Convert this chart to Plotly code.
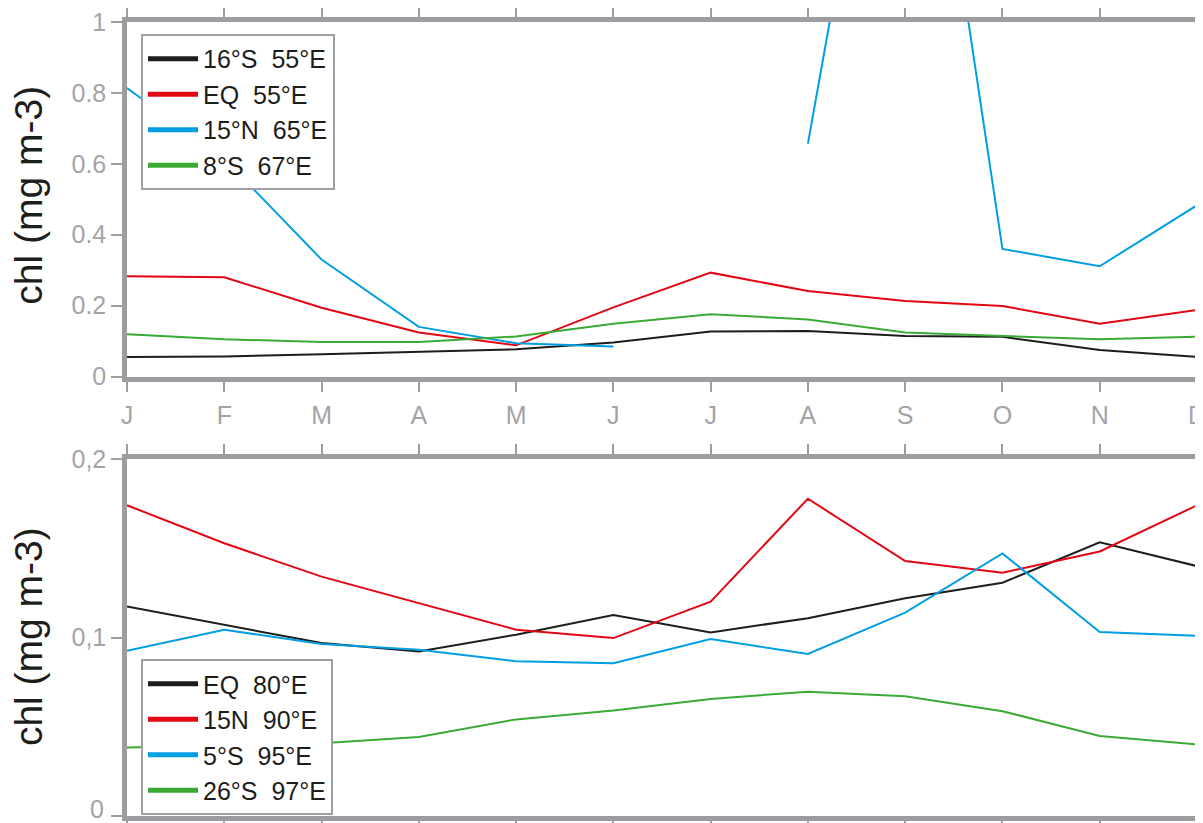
import plotly.graph_objects as go

months = ["J", "F", "M", "A", "M", "J", "J", "A", "S", "O", "N", "D"]
x_idx = list(range(12))

# Top panel (Arabian Sea / western Indian Ocean)
top_names = ["16°S\u00a0\u00a055°E", "EQ\u00a0\u00a055°E", "15°N\u00a0\u00a065°E", "8°S\u00a0\u00a067°E"]
s16_55e = [0.055, 0.0565, 0.063, 0.069, 0.077, 0.096, 0.127, 0.1286, 0.1145, 0.112, 0.075, 0.0555]
eq_55e = [0.283, 0.280, 0.194, 0.124, 0.088, 0.195, 0.293, 0.241, 0.213, 0.199, 0.149, 0.188]
n15_65e = [0.814, 0.614, 0.330, 0.140, 0.094, 0.085, None, 0.657, 2.19, 0.360, 0.311, 0.483]
s8_67e = [0.119, 0.105, 0.0977, 0.0977, 0.113, 0.149, 0.1755, 0.161, 0.124, 0.1145, 0.105, 0.112]

# Bottom panel (eastern Indian Ocean / Bay of Bengal)
bot_names = ["EQ\u00a0\u00a080°E", "15N\u00a0\u00a090°E", "5°S\u00a0\u00a095°E", "26°S\u00a0\u00a097°E"]
eq_80e = [0.1175, 0.1073, 0.097, 0.0923, 0.1017, 0.1128, 0.103, 0.111, 0.1222, 0.1309, 0.1535, 0.1402]
n15_90e = [0.1743, 0.153, 0.1343, 0.1193, 0.1045, 0.0998, 0.1203, 0.178, 0.143, 0.1365, 0.1484, 0.1743]
s5_95e = [0.0927, 0.1045, 0.0965, 0.0933, 0.0868, 0.0857, 0.0993, 0.0909, 0.1141, 0.1473, 0.1032, 0.1011]
s26_97e = [0.0384, 0.0395, 0.0408, 0.0443, 0.0542, 0.0592, 0.0657, 0.0697, 0.0672, 0.0588, 0.0449, 0.0402]

top_ticks = [0, 0.2, 0.4, 0.6, 0.8, 1]
top_ticktext = ["0", "0.2", "0.4", "0.6", "0.8", "1"]
bot_ticks = [0, 0.1, 0.2]
bot_ticktext = ["0", "0,1", "0,2"]

colors = ["#1d1d1b", "#e30613", "#009fe3", "#3aaa35"]
FRAME = "#9c9ca1"
TICKFONT = "#a3a3a8"
FONT = "Liberation Sans, Arial, Helvetica, sans-serif"

fig = go.Figure()

for name, ys, c in zip(top_names, [s16_55e, eq_55e, n15_65e, s8_67e], colors):
    fig.add_trace(go.Scatter(x=x_idx, y=ys, mode="lines", line=dict(color=c, width=2),
                             showlegend=False, xaxis="x", yaxis="y", connectgaps=False))
    fig.add_trace(go.Scatter(x=[None], y=[None], mode="lines", line=dict(color=c, width=5),
                             name=name, legend="legend", legendgroup="t" + name,
                             xaxis="x", yaxis="y"))

for name, ys, c in zip(bot_names, [eq_80e, n15_90e, s5_95e, s26_97e], colors):
    fig.add_trace(go.Scatter(x=x_idx, y=ys, mode="lines", line=dict(color=c, width=2),
                             showlegend=False, xaxis="x2", yaxis="y2"))
    fig.add_trace(go.Scatter(x=[None], y=[None], mode="lines", line=dict(color=c, width=5),
                             name=name, legend="legend2", legendgroup="b" + name,
                             xaxis="x2", yaxis="y2"))

axis_common = dict(showline=True, linewidth=4.5, linecolor=FRAME, mirror="ticks",
                   ticks="outside", ticklen=11, tickwidth=2, tickcolor=FRAME,
                   showgrid=False, zeroline=False, automargin=False,
                   ticklabeloverflow="allow",
                   tickfont=dict(family=FONT, size=25, color=TICKFONT))

legend_common = dict(xanchor="left", yanchor="top",
                     bgcolor="white", bordercolor="#a0a0a4", borderwidth=2,
                     font=dict(family=FONT, size=25, color="#1d1d1b"),
                     tracegroupgap=0, itemwidth=50)

# The bottom "0" label of the lower panel sits slightly above its tick (as in the
# original) so that it stays inside the picture; it is drawn as an annotation.
bot_tick_labels_shown = [""] + bot_ticktext[1:]

# The page body adds an 8px offset, so margins are reduced by 8px on the left/top.
fig.update_layout(
    width=1203, height=823,
    margin=dict(l=119, r=14, t=14, b=15, autoexpand=False),
    paper_bgcolor="white", plot_bgcolor="white",
    font=dict(family=FONT, color="#1d1d1b"),
    xaxis=dict(domain=[0, 1], range=[0, 11], anchor="y", tickvals=x_idx, ticktext=months,
               ticklabelstandoff=2, **axis_common),
    yaxis=dict(domain=[0.5535, 1], range=[0, 1], anchor="x", tickvals=top_ticks,
               ticktext=top_ticktext, ticklabelstandoff=0, **axis_common),
    xaxis2=dict(domain=[0, 1], range=[0, 11], anchor="y2", tickvals=x_idx, ticktext=months,
                showticklabels=False, **axis_common),
    yaxis2=dict(domain=[0, 0.449], range=[0, 0.2], anchor="x2", tickvals=bot_ticks,
                ticktext=bot_tick_labels_shown, ticklabelstandoff=0, **axis_common),
    legend=dict(x=0.0131, y=0.985, **legend_common),
    legend2=dict(x=0.0131, y=0.1977, **legend_common),
    annotations=[
        dict(text="chl (mg m-3)", xref="paper", yref="paper", x=-0.092, y=0.782,
             xanchor="center", yanchor="middle", textangle=-90, showarrow=False,
             font=dict(family=FONT, size=39, color="#1d1d1b")),
        dict(text="chl (mg m-3)", xref="paper", yref="paper", x=-0.092, y=0.226,
             xanchor="center", yanchor="middle", textangle=-90, showarrow=False,
             font=dict(family=FONT, size=39, color="#1d1d1b")),
        dict(text=bot_ticktext[0], xref="paper", yref="y2", x=-0.0196, y=bot_ticks[0],
             xanchor="right", yanchor="middle", yshift=7, showarrow=False,
             font=dict(family=FONT, size=25, color=TICKFONT)),
    ],
)

fig.write_html("out.html")
